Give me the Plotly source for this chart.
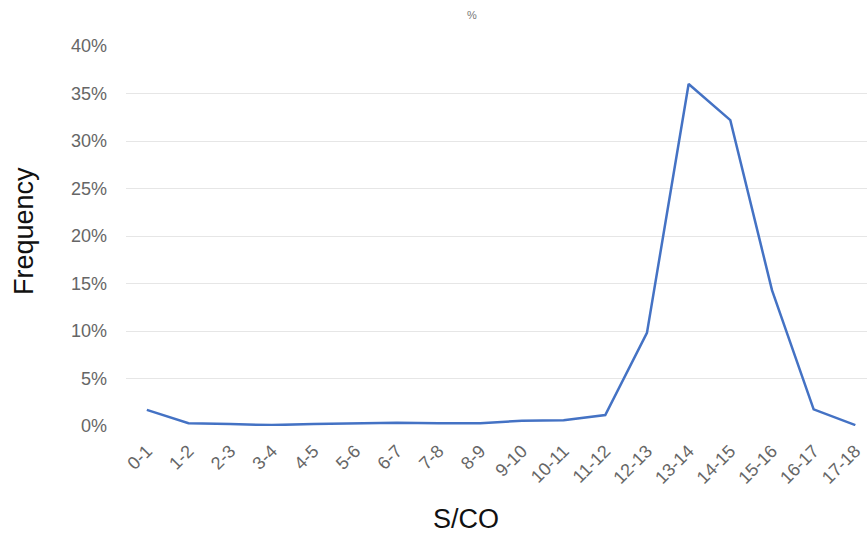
import plotly.graph_objects as go

categories = ["0-1", "1-2", "2-3", "3-4", "4-5", "5-6", "6-7", "7-8", "8-9",
              "9-10", "10-11", "11-12", "12-13", "13-14", "14-15", "15-16",
              "16-17", "17-18"]
frequency = [0.017, 0.003, 0.002, 0.001, 0.002, 0.003, 0.0035, 0.003, 0.003,
             0.0055, 0.006, 0.0115, 0.098, 0.360, 0.322, 0.143, 0.0175, 0.001]
y_ticks = [0, 0.05, 0.10, 0.15, 0.20, 0.25, 0.30, 0.35, 0.40]
y_tick_labels = ["0%", "5%", "10%", "15%", "20%", "25%", "30%", "35%", "40%"]

font = "Liberation Sans, Arial, sans-serif"
W, H = 867, 536

fig = go.Figure()
fig.add_trace(go.Scatter(
    x=list(range(len(categories))), y=frequency, mode="lines",
    line=dict(color="#4472C4", width=2.5), showlegend=False,
))

fig.update_layout(
    width=W, height=H,
    margin=dict(l=126, r=0, t=46, b=110),
    paper_bgcolor="white", plot_bgcolor="white",
    font=dict(family=font),
    title=dict(text="%", x=472 / W, xanchor="center", y=1 - 15 / H, yanchor="middle",
               font=dict(size=11, color="#777777", family=font)),
    xaxis=dict(
        range=[-0.5, 17.28],
        tickmode="array", tickvals=list(range(len(categories))), ticktext=categories,
        tickangle=-45, tickfont=dict(size=18, color="#666666", family=font),
        showgrid=False, zeroline=False, showline=False, ticks="",
        ticklabelstandoff=10,
    ),
    yaxis=dict(
        range=[0, 0.40],
        tickmode="array", tickvals=y_ticks, ticktext=y_tick_labels,
        tickfont=dict(size=18, color="#666666", family=font),
        showgrid=True, gridcolor="#e6e6e6", gridwidth=1, zeroline=False,
        showline=False, ticks="", ticklabelstandoff=18,
    ),
    annotations=[
        dict(text="S/CO", xref="paper", yref="paper",
             x=(466 - 126) / (W - 126), y=-(519 - 426) / (426 - 46),
             xanchor="center", yanchor="middle", showarrow=False,
             font=dict(size=27, color="#111111", family=font)),
        dict(text="Frequency", xref="paper", yref="paper",
             x=-(126 - 24) / (W - 126), y=(426 - 231) / (426 - 46),
             xanchor="center", yanchor="middle", showarrow=False, textangle=-90,
             font=dict(size=27, color="#111111", family=font)),
    ],
)

fig.write_html("out.html")
